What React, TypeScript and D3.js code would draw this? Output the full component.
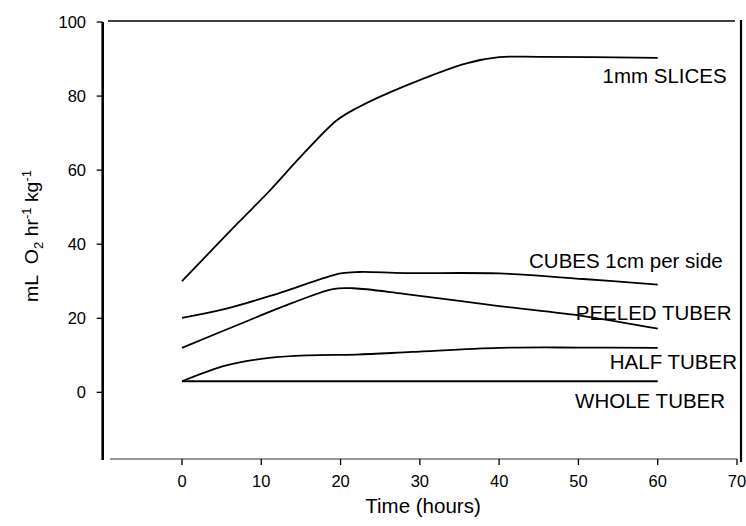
import * as d3 from 'd3';
import React from 'react';

// Respiration of potato tissue: values
const slices = [[0, 30], [7, 45.6], [11, 54.3], [15, 63.7], [19.5, 73.4], [22, 76.7], [28, 82.6], [36, 88.9], [40, 90.5], [45, 90.6], [60, 90.3]];
const cubes = [[0, 20.1], [5.6, 22.6], [12, 26.6], [20, 32.1], [22.4, 32.5], [28, 32.2], [40, 32.1], [50.6, 30.6], [60, 29.1]];
const peeled = [[0, 12], [7.7, 18.8], [14, 24.2], [19, 27.9], [21.6, 28.1], [28, 26.6], [40, 23.3], [50.6, 20.6], [60, 17.2]];
const half = [[0, 3], [5.6, 7.3], [11, 9.3], [16, 10], [22, 10.2], [29, 10.9], [40, 12], [50, 12.1], [60, 12]];
const whole = [[0, 3], [60, 3]];

const seriesNames = ['1mm SLICES', 'CUBES 1cm per side', 'PEELED TUBER', 'HALF TUBER', 'WHOLE TUBER'];
const seriesData = [slices, cubes, peeled, half, whole];

const xTicks = [0, 10, 20, 30, 40, 50, 60, 70];
const yTicks = [0, 20, 40, 60, 80, 100];

// label anchors (right end, baseline) in data units
const labelAnchor = [[68.7, 83.6], [68.2, 33.6], [69.3, 19.5], [70, 6.2], [68.5, -4.3]];

const W = 746;
const H = 526;
const font = "'Liberation Sans', Arial, sans-serif";

export default function App() {
  const x = d3.scaleLinear().domain([-10, 70]).range([102.7, 737]);
  const y = d3.scaleLinear().domain([-18, 100]).range([459, 22]);

  const line = d3.line<number[]>()
    .x(d => x(d[0]))
    .y(d => y(d[1]))
    .curve(d3.curveCatmullRom.alpha(0.5));

  return (
    <svg width={W} height={H} style={{ position: 'absolute', left: 0, top: 0, background: '#fff' }}
      fontFamily={font}>
      {/* frame */}
      <line x1={108} x2={735} y1={y(100) - 1} y2={y(100) - 1} stroke="#000" strokeWidth={1.3} />
      <line x1={741} x2={741} y1={20} y2={462} stroke="#000" strokeWidth={2.2} />
      <line x1={110} x2={737} y1={y(-18)} y2={y(-18)} stroke="#333" strokeWidth={1.2} />
      <line x1={x(-10)} x2={x(-10)} y1={y(100)} y2={y(-18) + 1} stroke="#000" strokeWidth={2.6} />

      {/* y axis ticks */}
      {yTicks.map(t => (
        <g key={'y' + t}>
          <line x1={x(-10) - 6} x2={x(-10)} y1={y(t)} y2={y(t)} stroke="#000" strokeWidth={1.3} />
          <text x={86} y={y(t)} dy="0.36em" textAnchor="end" fontSize={16.5}>{t}</text>
        </g>
      ))}

      {/* x axis ticks */}
      {xTicks.map(t => (
        <g key={'x' + t}>
          <line x1={x(t)} x2={x(t)} y1={y(-18)} y2={y(-18) + 6} stroke="#000" strokeWidth={1.3} />
          <text x={x(t)} y={487} textAnchor="middle" fontSize={16.5}>{t}</text>
        </g>
      ))}

      <text x={423} y={513} textAnchor="middle" fontSize={20.5}>Time (hours)</text>

      <text transform="translate(38,236) rotate(-90)" textAnchor="middle" fontSize={18}
        textLength={132} lengthAdjust="spacingAndGlyphs">
        {'mL\u00a0 O'}<tspan fontSize={12} dy={5}>2</tspan><tspan dy={-5}>{' hr'}</tspan>
        <tspan fontSize={12} dy={-7}>-1</tspan><tspan dy={7}>{' kg'}</tspan>
        <tspan fontSize={12} dy={-7}>-1</tspan>
      </text>

      {/* curves */}
      {seriesData.map((s, i) => (
        <path key={seriesNames[i]} d={line(s) || ''} fill="none" stroke="#000" strokeWidth={1.8} />
      ))}

      {/* series labels */}
      {seriesNames.map((n, i) => (
        <text key={'l' + n} x={x(labelAnchor[i][0])} y={y(labelAnchor[i][1])} textAnchor="end" fontSize={20.5}>{n}</text>
      ))}
    </svg>
  );
}
